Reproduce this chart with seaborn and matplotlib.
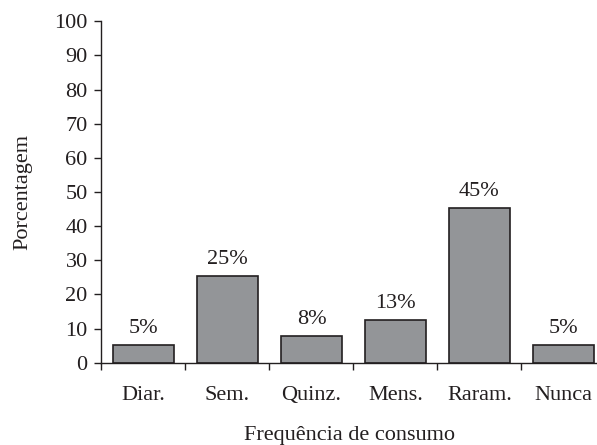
import matplotlib
matplotlib.use("Agg")
from matplotlib import pyplot as plt
import pandas as pd
import seaborn as sns

categorias = ["Diar.", "Sem.", "Quinz.", "Mens.", "Raram.", "Nunca"]
porcentagem = [5.3, 25.3, 7.7, 12.5, 45.2, 5.3]
rotulos = ["5%", "25%", "8%", "13%", "45%", "5%"]

df = pd.DataFrame({"Frequência": categorias, "Porcentagem": porcentagem})

sns.set_style("ticks")
plt.rcParams["font.family"] = ["Liberation Serif", "DejaVu Serif"]

fig = plt.figure(figsize=(5.97, 4.45), dpi=100)
ax = fig.add_axes([0.170, 0.185, 0.830, 0.767])

sns.barplot(data=df, x="Frequência", y="Porcentagem", color="#939598",
            edgecolor="#231f20", linewidth=1.2, width=0.73, saturation=1, ax=ax)

for i, txt in enumerate(rotulos):
    ax.text(i, porcentagem[i] + 3.5, txt, ha="center", va="baseline",
            fontsize=16, color="#231f20")

ax.set_ylim(0, 100)
ax.set_xlim(-0.5, 5.4)
ax.set_yticks(range(0, 101, 10))
ax.set_xticks(range(len(categorias)))
ax.set_xticks([x - 0.5 for x in range(len(categorias))], minor=True)
ax.tick_params(axis="x", which="major", length=0, pad=17, labelsize=16,
               labelcolor="#231f20")
ax.tick_params(axis="x", which="minor", length=5, width=1, color="#231f20")
ax.tick_params(axis="y", length=5, width=1, color="#231f20", labelsize=16,
               labelcolor="#231f20", pad=5)
ax.set_xlabel("Frequência de consumo", fontsize=16, color="#231f20", labelpad=15)
ax.set_ylabel("Porcentagem", fontsize=16, color="#231f20", labelpad=16)

sns.despine(ax=ax)
for s in ["left", "bottom"]:
    ax.spines[s].set_color("#231f20")
    ax.spines[s].set_linewidth(1)

fig.savefig("out.png", dpi=100)
